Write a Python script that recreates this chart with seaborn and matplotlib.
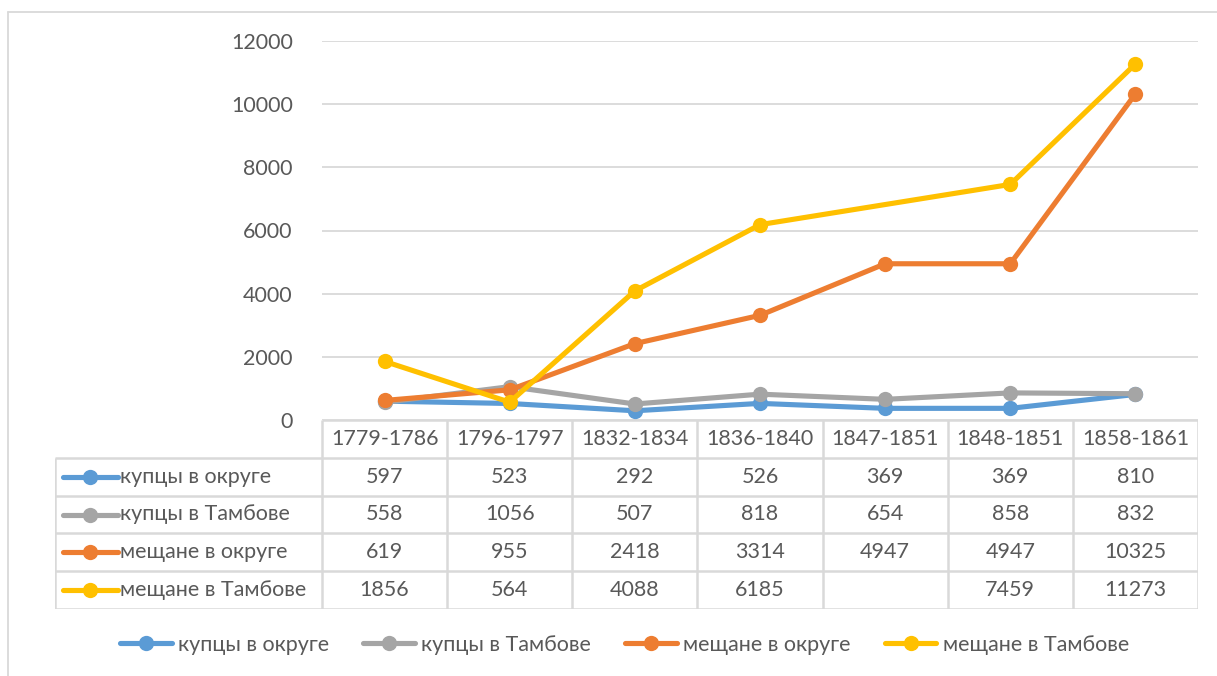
import numpy as np
import pandas as pd
import seaborn as sns
import matplotlib.pyplot as plt
from matplotlib.lines import Line2D

sns.set_theme(style="white")
plt.rcParams['font.family'] = ['Lato', 'DejaVu Sans']

periods = ["1779-1786", "1796-1797", "1832-1834", "1836-1840", "1847-1851", "1848-1851", "1858-1861"]
kuptsy_okrug = [597, 523, 292, 526, 369, 369, 810]
kuptsy_tambov = [558, 1056, 507, 818, 654, 858, 832]
meshchane_okrug = [619, 955, 2418, 3314, 4947, 4947, 10325]
meshchane_tambov = [1856, 564, 4088, 6185, np.nan, 7459, 11273]

series_names = ["купцы в округе", "купцы в Тамбове", "мещане в округе", "мещане в Тамбове"]
series_values = [kuptsy_okrug, kuptsy_tambov, meshchane_okrug, meshchane_tambov]
colors = ["#5B9BD5", "#A5A5A5", "#ED7D31", "#FFC000"]

rows = []
for name, vals in zip(series_names, series_values):
	for i, v in enumerate(vals):
		rows.append({"pos": i, "period": periods[i], "series": name, "value": v})
data = pd.DataFrame(rows).dropna()

FS = 15.5
TXT = "#595959"
W, H = 1217, 676
fig = plt.figure(figsize=(W / 100, H / 100), dpi=100)
px_l, px_r, px_t, px_b = 322, 1198, 41, 420
ax = fig.add_axes([px_l / W, 1 - px_b / H, (px_r - px_l) / W, (px_b - px_t) / H])

sns.lineplot(data=data, x="pos", y="value", hue="series", hue_order=series_names,
			palette=colors, linewidth=3.7, marker="o", markersize=11,
			markeredgewidth=0, ax=ax, legend=True, sort=False)

ax.set_xlim(-0.5, len(periods) - 0.5)
ax.set_ylim(0, 12000)
ax.set_yticks(np.arange(0, 12001, 2000))
ax.set_xticks([])
ax.set_xlabel("")
ax.set_ylabel("")
ax.grid(axis="y", color="#D9D9D9", linewidth=1.3)
ax.set_axisbelow(True)
for s in ax.spines.values():
	s.set_visible(False)
ax.tick_params(axis="y", length=0, pad=21, labelsize=FS, labelcolor=TXT)

handles, labels = ax.get_legend_handles_labels()
ax.get_legend().remove()
fig.legend(handles, labels, loc="center", bbox_to_anchor=(0.513, 1 - 645 / H), ncol=4,
		frameon=False, fontsize=FS, handlelength=2.4, columnspacing=1.6,
		handletextpad=0.28, labelcolor=TXT)

# data table under the axis
col_w = (px_r - px_l) / len(periods)
lab_w = (px_l - 55) / col_w
tb_b = 609
tax = fig.add_axes([55 / W, 1 - tb_b / H, (px_r - 55) / W, (tb_b - px_b) / H])
tax.set_xlim(-0.5 - lab_w, len(periods) - 0.5)
tax.set_ylim(len(series_names) + 1, 0)
tax.axis("off")

grid_c = "#D9D9D9"
nrow = len(series_names) + 1
x_left = -0.5 - lab_w
tax.hlines(0, -0.5, len(periods) - 0.5, color=grid_c, lw=1.8)
tax.hlines(np.arange(1, nrow + 1), x_left, len(periods) - 0.5, color=grid_c, lw=1.8)
tax.vlines(np.arange(len(periods) + 1) - 0.5, 0, nrow, color=grid_c, lw=1.8)
tax.vlines(x_left, 1, nrow, color=grid_c, lw=1.8)

for i, p in enumerate(periods):
	tax.text(i, 0.5, p, ha="center", va="center", fontsize=FS, color=TXT)
for r, (name, vals, c) in enumerate(zip(series_names, series_values, colors), start=1):
	for i, v in enumerate(vals):
		if not np.isnan(v):
			tax.text(i, r + 0.5, f"{int(v)}", ha="center", va="center", fontsize=FS, color=TXT)
	x0, x1 = x_left + 0.06, x_left + 0.5
	tax.plot([x0, x1], [r + 0.5, r + 0.5], color=c, lw=3.7, solid_capstyle="round")
	tax.plot([(x0 + x1) / 2], [r + 0.5], "o", color=c, markersize=11, markeredgewidth=0)
	tax.text(x1 + 0.02, r + 0.5, name, ha="left", va="center", fontsize=FS, color=TXT)

# chart frame
fig.add_artist(Line2D([8 / W, 1], [1 - 12 / H, 1 - 12 / H], color=grid_c, lw=1.3))
fig.add_artist(Line2D([8 / W, 8 / W], [0, 1 - 12 / H], color=grid_c, lw=1.3))

fig.savefig("out.png", dpi=100)
